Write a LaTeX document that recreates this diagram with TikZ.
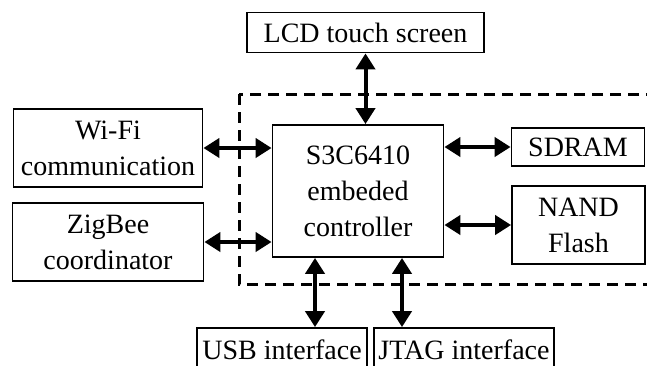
\documentclass[tikz,border=0pt]{standalone}
\usepackage{fontspec}
\setmainfont{Liberation Serif}
\usetikzlibrary{arrows.meta,calc}
\begin{document}
\begin{tikzpicture}[
		x={(1pt,0pt)},
		y={(0pt,-1pt)},
		block/.style={draw=black,line width=1.8pt,inner sep=0pt,align=center,font=\fontsize{28}{36}\selectfont},
		bus/.style={line width=4pt,{Triangle[length=16pt,width=19pt]}-{Triangle[length=16pt,width=19pt]}},
		region/.style={draw=black,line width=3pt,dash pattern=on 11pt off 7pt},
	]
		\useasboundingbox (0,0) rectangle (647,365);
		\clip (0,0) rectangle (647,365);
		\draw[region] (239,94) rectangle (690,284);
		
		\node[block,minimum width=237pt,minimum height=40pt] (lcd) at (365.5,32.5) {LCD touch screen};
		\node[block,minimum width=189pt,minimum height=78pt] (wifi) at (108,148) {Wi-Fi\\communication};
		\node[block,minimum width=191pt,minimum height=78pt] (zigbee) at (108,242) {ZigBee\\coordinator};
		\node[block,minimum width=171pt,minimum height=132pt] (ctrl) at (358,191) {S3C6410\\embeded\\controller};
		\node[block,minimum width=133pt,minimum height=38pt] (sdram) at (578,147) {SDRAM};
		\node[block,minimum width=133pt,minimum height=78pt] (nand) at (578.5,225) {NAND\\Flash};
		\node[block,minimum width=170pt,minimum height=44pt] (usb) at (282,350) {USB interface};
		\node[block,minimum width=180pt,minimum height=44pt] (jtag) at (464,350) {JTAG interface};
		
		\draw[bus] (lcd.south) -- (lcd.south |- ctrl.north);
		\draw[bus] (wifi.east) -- (wifi.east -| ctrl.west);
		\draw[bus] (zigbee.east) -- (zigbee.east -| ctrl.west);
		\draw[bus] (ctrl.east |- sdram.west) -- (sdram.west);
		\draw[bus] (ctrl.east |- nand.west) -- (nand.west);
		\draw[bus] ($(ctrl.south)+(-43,0)$) -- ($(usb.north)+(33,0)$);
		\draw[bus] ($(ctrl.south)+(44,0)$) -- ($(jtag.north)+(-62,0)$);
	\end{tikzpicture}
\end{document}
